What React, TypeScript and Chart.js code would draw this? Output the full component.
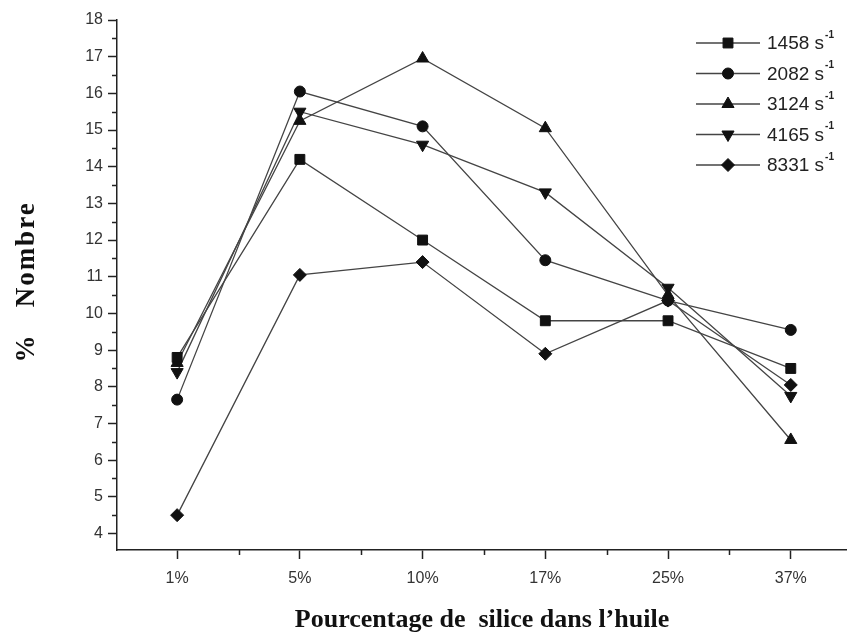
import React, { useEffect, useRef } from 'react';
import { Chart, registerables } from 'chart.js';
import { drawPoint } from 'chart.js/helpers';

Chart.register(...registerables);

const categories = ['1%', '5%', '10%', '17%', '25%', '37%'];
const rates = ['1458', '2082', '3124', '4165', '8331'];
const s1458 = [8.8, 14.2, 12.0, 9.8, 9.8, 8.5];
const s2082 = [7.65, 16.05, 15.1, 11.45, 10.35, 9.55];
const s3124 = [8.65, 15.25, 16.95, 15.05, 10.5, 6.55];
const s4165 = [8.4, 15.5, 14.6, 13.3, 10.7, 7.75];
const s8331 = [4.5, 11.05, 11.4, 8.9, 10.35, 8.05];
const yTicks = [4, 5, 6, 7, 8, 9, 10, 11, 12, 13, 14, 15, 16, 17, 18];
const xTitle = 'Pourcentage de  silice dans l\u2019huile';
const yTitle = '%   Nombre';

const seriesValues = [s1458, s2082, s3124, s4165, s8331];
const pointStyles = ['rect', 'circle', 'triangle', 'triangle', 'rectRot'];
const rotations = [0, 0, 0, 180, 0];
const radii = [7, 5.5, 7, 7, 6.5];

const LINE = '#444';
const MARK = '#111';
const AXIS = '#222';

const decorPlugin = {
  id: 'decor',
  afterDraw(chart: any) {
    const ctx = chart.ctx;
    const xs = chart.scales.x;
    const ys = chart.scales.y;
    ctx.save();
    // minor ticks
    ctx.strokeStyle = AXIS;
    ctx.lineWidth = 1.5;
    ctx.beginPath();
    for (let v = 4.5; v < 18; v += 1) {
      const py = Math.round(ys.getPixelForValue(v)) + 0.5;
      ctx.moveTo(xs.left - 5, py);
      ctx.lineTo(xs.left, py);
    }
    for (let v = 0.5; v < categories.length - 1; v += 1) {
      const px = Math.round(xs.getPixelForValue(v)) + 0.5;
      ctx.moveTo(px, ys.bottom);
      ctx.lineTo(px, ys.bottom + 5);
    }
    ctx.stroke();

    // axis titles
    ctx.fillStyle = '#111';
    ctx.textAlign = 'center';
    ctx.textBaseline = 'middle';
    ctx.font = 'bold 26px "Liberation Serif"';
    ctx.fillText(xTitle, 482, 620);
    ctx.save();
    ctx.translate(27, 282);
    ctx.rotate(-Math.PI / 2);
    ctx.font = 'bold 27px "Liberation Serif"';
    (ctx as any).letterSpacing = '2px';
    ctx.fillText(yTitle, 0, 0);
    ctx.restore();

    // legend
    chart.data.datasets.forEach((ds: any, i: number) => {
      const cy = 43 + i * 30.5;
      ctx.strokeStyle = ds.borderColor;
      ctx.lineWidth = ds.borderWidth;
      ctx.beginPath();
      ctx.moveTo(696, cy);
      ctx.lineTo(760, cy);
      ctx.stroke();
      ctx.fillStyle = MARK;
      ctx.strokeStyle = MARK;
      ctx.lineWidth = 1;
      drawPoint(ctx, { pointStyle: ds.pointStyle, rotation: ds.pointRotation, radius: ds.pointRadius, borderWidth: 1 }, 728, cy);
      ctx.fillStyle = '#222';
      ctx.textAlign = 'left';
      ctx.textBaseline = 'middle';
      ctx.font = '19px "Liberation Sans"';
      const main = rates[i] + ' s';
      ctx.fillText(main, 767, cy + 1);
      const w = ctx.measureText(main).width;
      ctx.font = 'bold 10px "Liberation Sans"';
      ctx.fillText('-1', 767 + w + 1, cy - 8);
    });
    ctx.restore();
  },
};

export default function App() {
  const ref = useRef<HTMLCanvasElement | null>(null);
  useEffect(() => {
    if (!ref.current) return;
    const chart = new Chart(ref.current, {
      type: 'line',
      data: {
        datasets: seriesValues.map((vals, i) => ({
          label: rates[i] + ' s\u207B\u00B9',
          data: vals.map((v, j) => ({ x: j, y: v })),
          borderColor: LINE,
          borderWidth: 1.3,
          backgroundColor: MARK,
          pointBackgroundColor: MARK,
          pointBorderColor: MARK,
          pointBorderWidth: 1,
          pointStyle: pointStyles[i] as any,
          pointRotation: rotations[i],
          pointRadius: radii[i],
          tension: 0,
          fill: false,
        })),
      },
      options: {
        responsive: false,
        animation: false,
        devicePixelRatio: 1,
        layout: { padding: { top: 20, right: 0, left: 0, bottom: 0 } },
        plugins: { legend: { display: false }, tooltip: { enabled: false } },
        scales: {
          x: {
            type: 'linear',
            min: -0.49,
            max: 5.45,
            afterBuildTicks: (s: any) => {
              s.ticks = categories.map((_, i) => ({ value: i }));
            },
            afterFit: (s: any) => {
              s.height = 87;
            },
            ticks: {
              callback: (v: any) => categories[v] ?? '',
              color: '#333',
              font: { family: '"Liberation Sans"', size: 16 },
              padding: 10,
              maxRotation: 0,
              autoSkip: false,
            },
            grid: { display: true, drawOnChartArea: false, drawTicks: true, tickLength: 9, tickColor: AXIS, tickWidth: 1.5 },
            border: { display: true, color: AXIS, width: 1.5 },
          },
          y: {
            type: 'linear',
            min: 3.55,
            max: 18,
            afterBuildTicks: (s: any) => {
              s.ticks = yTicks.map((v) => ({ value: v }));
            },
            afterFit: (s: any) => {
              s.width = 117;
            },
            ticks: {
              color: '#333',
              font: { family: '"Liberation Sans"', size: 16 },
              padding: 5,
              autoSkip: false,
            },
            grid: { display: true, drawOnChartArea: false, drawTicks: true, tickLength: 9, tickColor: AXIS, tickWidth: 1.5 },
            border: { display: true, color: AXIS, width: 1.5 },
          },
        },
      },
      plugins: [decorPlugin],
    });
    return () => chart.destroy();
  }, []);
  return (
    <div style={{ position: 'absolute', left: 0, top: 0, width: 854, height: 637, background: '#fff' }}>
      <canvas ref={ref} width={854} height={637} />
    </div>
  );
}
